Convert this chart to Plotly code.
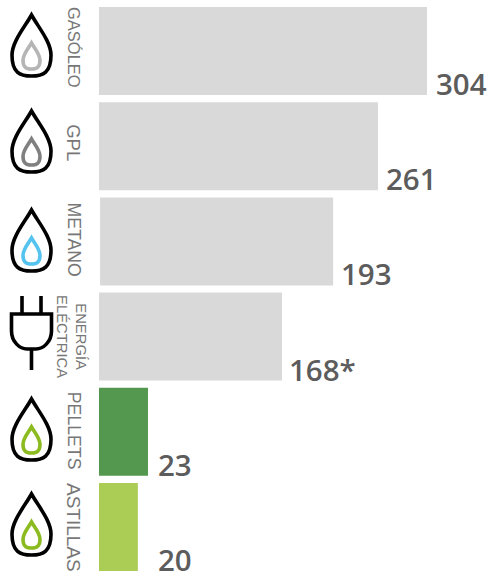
import plotly.graph_objects as go

# Source data
categories = ["GASÓLEO", "GPL", "METANO", "ENERGÍA<br>ELÉCTRICA", "PELLETS", "ASTILLAS"]
value_labels = ["304", "261", "193", "168*", "23", "20"]
# Drawn bar ends and starts (the infographic is not to scale with its labels)
bar_starts = [0, 0, 1, 0, 0, 0]
bar_lengths = [304, 258.6, 217, 169.6, 45.4, 36]
bar_colors = ["#d9d9d9", "#d9d9d9", "#d9d9d9", "#d9d9d9", "#54984f", "#abcc55"]
inner_colors = ["#b5b5b5", "#808080", "#55c3ef", None, "#8bbb1f", "#8bbb1f"]

W, H = 491, 574
X0, PX_PER_UNIT = 99, 1.079
PITCH = 95.2
CENTER0 = 51

pos = list(range(len(categories)))


def px_x(x):
    return x / W


def px_y(y):
    return 1 - y / H


def path(cmds):
    out = []
    for c in cmds:
        if isinstance(c, str):
            out.append(c)
        else:
            out.append(f"{px_x(c[0]):.5f},{px_y(c[1]):.5f}")
    return " ".join(out)


def drop(cx, top, bottom, half):
    # teardrop outline in pixel coordinates
    h = bottom - top
    mid = top + h * 0.66
    return path([
        "M", (cx, top),
        "C", (cx - half * 0.35, top + h * 0.2),
        (cx - half, mid - h * 0.22), (cx - half, mid),
        "C", (cx - half, bottom - h * 0.06),
        (cx - half * 0.6, bottom), (cx, bottom),
        "C", (cx + half * 0.6, bottom),
        (cx + half, bottom - h * 0.06), (cx + half, mid),
        "C", (cx + half, mid - h * 0.22),
        (cx + half * 0.35, top + h * 0.2), (cx, top),
        "Z",
    ])


shapes = []
icon_tops = [15, 111, 210, None, 399, 494]
for top, col in zip(icon_tops, inner_colors):
    if top is None:
        continue
    shapes.append(dict(type="path", xref="paper", yref="paper", layer="above",
                       path=drop(31.5, top, top + 61, 19.5),
                       line=dict(color="#000000", width=3.6), fillcolor="rgba(0,0,0,0)"))
    shapes.append(dict(type="path", xref="paper", yref="paper", layer="above",
                       path=drop(31.5, top + 28, top + 54, 8.5),
                       line=dict(color=col, width=3.6), fillcolor="rgba(0,0,0,0)"))

# plug icon
plug = path([
    "M", (22, 296), "L", (22, 314),
    "M", (41, 296), "L", (41, 314),
    "M", (11.5, 314), "L", (51.5, 314), "L", (51.5, 331),
    "C", (51.5, 342), (43, 349), (36, 349),
    "L", (27, 349),
    "C", (20, 349), (11.5, 342), (11.5, 331),
    "Z",
    "M", (31.5, 349), "L", (31.5, 370),
])
shapes.append(dict(type="path", xref="paper", yref="paper", layer="above", path=plug,
                   line=dict(color="#000000", width=3.6), fillcolor="rgba(0,0,0,0)"))

fig = go.Figure(go.Bar(
    y=pos, x=[e - s for e, s in zip(bar_lengths, bar_starts)], base=bar_starts, orientation="h",
    marker=dict(color=bar_colors, line=dict(width=0)),
    width=88 / PITCH, hoverinfo="skip",
))

annotations = []
label_shift_x = [7, 6, 6, 5, 8, 18]
label_sizes = [16.5, 18.5, 17.7, 14.8, 17.7, 19]
for i, (cat, lab, v) in enumerate(zip(categories, value_labels, bar_lengths)):
    annotations.append(dict(
        x=v, y=i, xref="x", yref="y", text=lab, showarrow=False,
        xanchor="left", yanchor="bottom", xshift=label_shift_x[i], yshift=-55,
        font=dict(family="Open Sans", size=29.5, color="#5c5c5c", weight=600),
    ))
    two = "<br>" in cat
    annotations.append(dict(
        x=px_x(71.5 if two else 74), y=i, xref="paper", yref="y", text=cat, showarrow=False,
        textangle=90, xanchor="center", yanchor="middle", yshift=[4, 4, 2, 0, 1, 0][i],
        font=dict(family="Liberation Sans", size=label_sizes[i], color="#777777"),
    ))

fig.update_layout(
    width=W, height=H, margin=dict(l=0, r=0, t=0, b=0),
    paper_bgcolor="#ffffff", plot_bgcolor="#ffffff", showlegend=False,
    xaxis=dict(range=[-X0 / PX_PER_UNIT, (W - X0) / PX_PER_UNIT], visible=False, fixedrange=True),
    yaxis=dict(range=[(H - CENTER0) / PITCH, -CENTER0 / PITCH], visible=False, fixedrange=True),
    shapes=shapes, annotations=annotations,
)
fig.write_html("out.html", config=dict(displayModeBar=False),
               post_script="document.body.style.margin='0';document.documentElement.style.overflow='hidden';")
